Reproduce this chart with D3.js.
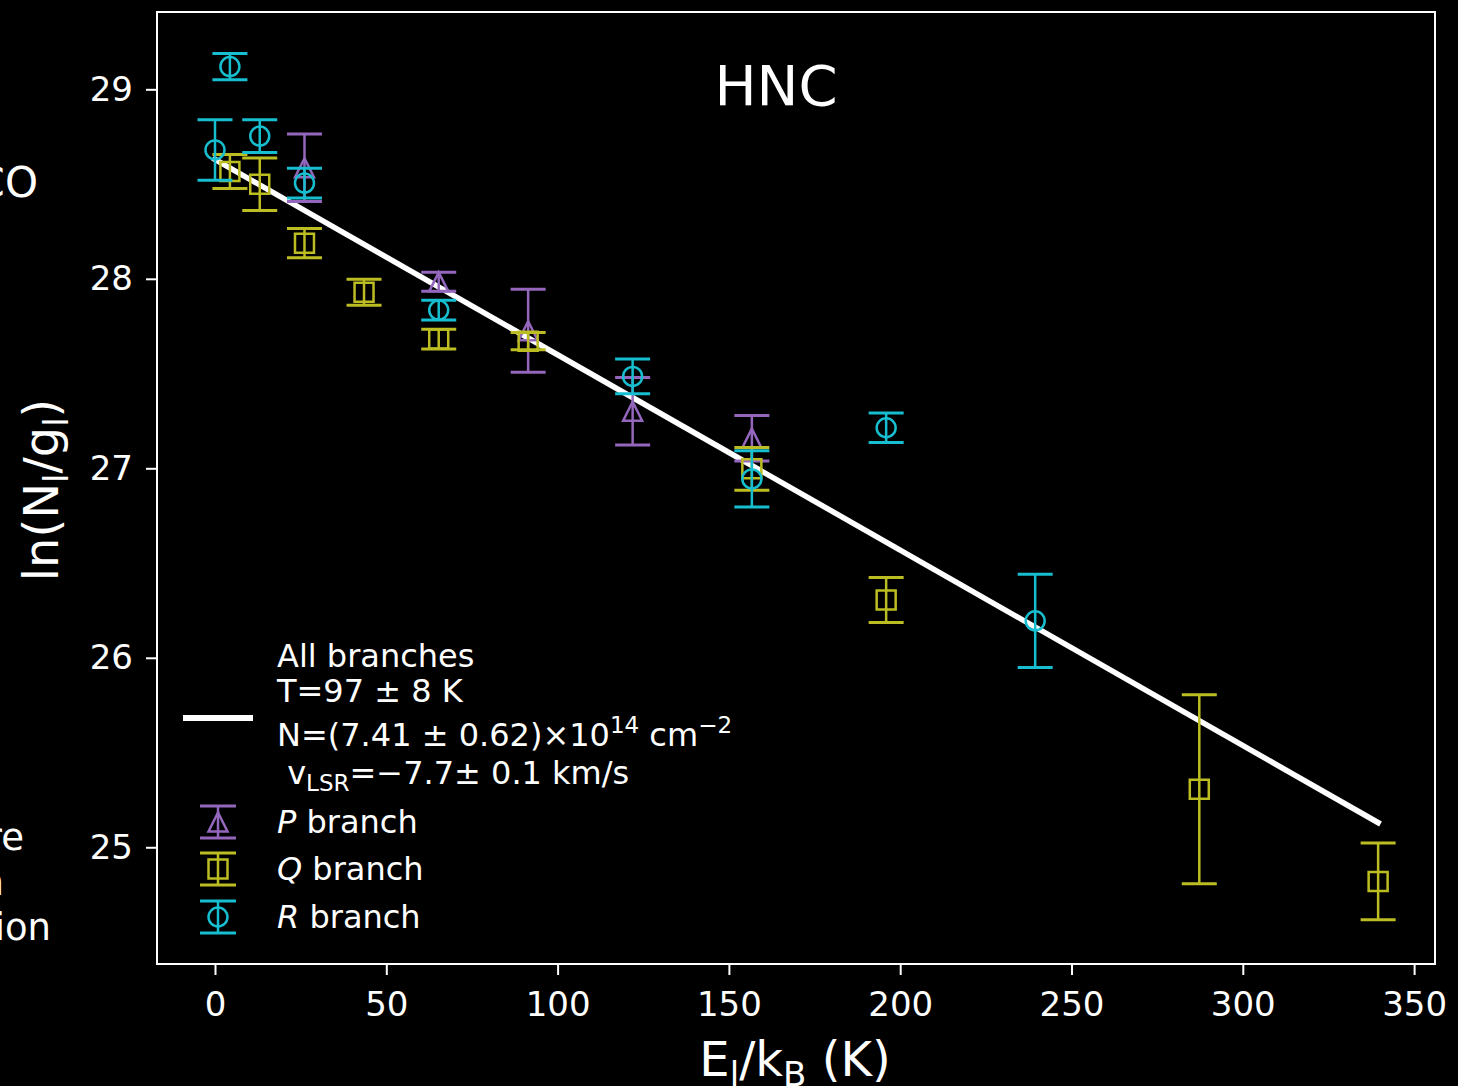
<!DOCTYPE html>
<html>
<head>
<meta charset="utf-8">
<script src="https://cdn.jsdelivr.net/npm/d3@7"></script>
<style>
  html, body { margin: 0; padding: 0; background: #000; }
  svg { display: block; }
  text { font-family: "DejaVu Sans", sans-serif; fill: #fff; }
</style>
</head>
<body>
<script>
// rotational diagram values
const pE = [26.12, 65.3, 91.4, 121.9, 156.7];
const pLn = [28.586, 27.984, 27.726, 27.301, 27.159];
const pErr = [0.178, 0.05, 0.219, 0.178, 0.12];

const qE = [4.35, 13.06, 26.12, 43.5, 65.3, 91.4, 156.7, 195.9, 287.3, 339.5];
const qLn = [28.566, 28.499, 28.188, 27.929, 27.682, 27.671, 26.997, 26.305, 25.306, 24.82];
const qErr = [0.09, 0.139, 0.077, 0.069, 0.052, 0.045, 0.113, 0.119, 0.499, 0.203];

const rE = [0, 4.35, 13.06, 26.12, 65.3, 121.9, 156.7, 195.9, 239.4];
const rLn = [28.68, 29.12, 28.753, 28.505, 27.835, 27.485, 26.944, 27.214, 26.195];
const rErr = [0.16, 0.069, 0.087, 0.078, 0.052, 0.092, 0.148, 0.078, 0.246];

// fit over all branches (T = 97 K)
const fitE = [0, 339.5];
const fitLn = [28.63, 25.13];

const xTicks = [0, 50, 100, 150, 200, 250, 300, 350];
const yTicks = [25, 26, 27, 28, 29];

const W = 1458, H = 1086;
const axL = 157, axR = 1435, axT = 12, axB = 964;

var svg = d3.select("body").append("svg")
	.attr("width", W)
	.attr("height", H)
	.style("background", "#000");

svg.append("rect").attr("width", W).attr("height", H).attr("fill", "#000");

var x = d3.scaleLinear().domain([-16.93, 356.1]).range([axL, axR]);
var y = d3.scaleLinear().domain([24.384, 29.408]).range([axB, axT]);

// clipped text from the neighbouring panel
svg.append("text").attr("x", 38).attr("y", 197).attr("text-anchor", "end").style("font-size", "42px").text("CO");
svg.append("text").attr("x", 24).attr("y", 850).attr("text-anchor", "end").style("font-size", "37px").text("re");
svg.append("text").attr("x", 4).attr("y", 895).attr("text-anchor", "end").style("font-size", "37px").text("n");
svg.append("text").attr("x", 51).attr("y", 940).attr("text-anchor", "end").style("font-size", "37px").text("ion");

// axes
var xAxis = svg.append("g")
	.attr("transform", "translate(0," + axB + ")")
	.call(d3.axisBottom(x).tickValues(xTicks).tickSize(11).tickPadding(17).tickFormat(d3.format("d")));
var yAxis = svg.append("g")
	.attr("transform", "translate(" + axL + ",0)")
	.call(d3.axisLeft(y).tickValues(yTicks).tickSize(11).tickPadding(13).tickFormat(d3.format("d")));

[xAxis, yAxis].forEach((g) => {
	g.select(".domain").remove();
	g.selectAll(".tick line").attr("stroke", "#fff").attr("stroke-width", 2);
	g.selectAll(".tick text")
		.attr("fill", "#fff")
		.style("font-family", "DejaVu Sans, sans-serif")
		.style("font-size", "34px");
});

svg.append("rect")
	.attr("x", axL).attr("y", axT)
	.attr("width", axR - axL).attr("height", axB - axT)
	.attr("fill", "none").attr("stroke", "#fff").attr("stroke-width", 2);

// fit line
var line = d3.line().x((d) => x(d[0])).y((d) => y(d[1]));
svg.append("path")
	.datum(fitE.map((e, i) => [e, fitLn[i]]))
	.attr("d", line)
	.attr("fill", "none")
	.attr("stroke", "#fff")
	.attr("stroke-width", 5.5)
	.attr("stroke-linecap", "square");

const capHalf = 17.5;

function markerPath(kind) {
	if (kind === "tri") return "M0,-9.5L-9.5,9.5L9.5,9.5Z";
	if (kind === "sq") return "M-9.5,-9.5H9.5V9.5H-9.5Z";
	return "M-9.5,0A9.5,9.5 0 1,0 9.5,0A9.5,9.5 0 1,0 -9.5,0Z";
}

function drawSeries(es, lns, errs, color, kind) {
	var g = svg.append("g");
	var pts = es.map((e, i) => ({ e: e, v: lns[i], err: errs[i] }));
	g.selectAll("line.bar").data(pts).enter().append("line")
		.attr("x1", (d) => x(d.e)).attr("x2", (d) => x(d.e))
		.attr("y1", (d) => y(d.v + d.err)).attr("y2", (d) => y(d.v - d.err))
		.attr("stroke", color).attr("stroke-width", 2.5);
	pts.forEach((d) => {
		[d.v + d.err, d.v - d.err].forEach((v) => {
			g.append("line")
				.attr("x1", x(d.e) - capHalf).attr("x2", x(d.e) + capHalf)
				.attr("y1", y(v)).attr("y2", y(v))
				.attr("stroke", color).attr("stroke-width", 3);
		});
	});
	g.selectAll("path.mk").data(pts).enter().append("path")
		.attr("d", markerPath(kind))
		.attr("transform", (d) => "translate(" + x(d.e) + "," + y(d.v) + ")")
		.attr("fill", "none").attr("stroke", color).attr("stroke-width", 2.5);
}

const colP = "#9467bd", colQ = "#bcbd22", colR = "#17becf";
drawSeries(pE, pLn, pErr, colP, "tri");
drawSeries(qE, qLn, qErr, colQ, "sq");
drawSeries(rE, rLn, rErr, colR, "circ");

// title
svg.append("text").attr("x", 776).attr("y", 105).attr("text-anchor", "middle").style("font-size", "56px").text("HNC");

// axis labels
var xl = svg.append("text").attr("x", 795).attr("y", 1076).attr("text-anchor", "middle").style("font-size", "48px");
xl.append("tspan").text("E");
xl.append("tspan").attr("dy", 10).style("font-size", "34px").text("l");
xl.append("tspan").attr("dy", -10).text("/k");
xl.append("tspan").attr("dy", 10).style("font-size", "34px").text("B");
xl.append("tspan").attr("dy", -10).text(" (K)");

var yl = svg.append("text")
	.attr("transform", "translate(58,490) rotate(-90)")
	.attr("text-anchor", "middle")
	.style("font-size", "48px");
yl.append("tspan").text("ln(N");
yl.append("tspan").attr("dy", 10).style("font-size", "34px").text("l");
yl.append("tspan").attr("dy", -10).text("/g");
yl.append("tspan").attr("dy", 10).style("font-size", "34px").text("l");
yl.append("tspan").attr("dy", -10).text(")");

// legend
var leg = svg.append("g").style("font-size", "32px");
leg.append("line").attr("x1", 183).attr("x2", 253).attr("y1", 718).attr("y2", 718)
	.attr("stroke", "#fff").attr("stroke-width", 6);
leg.append("text").attr("x", 277).attr("y", 667).text("All branches");
leg.append("text").attr("x", 277).attr("y", 702).text("T=97 ± 8 K");
var nt = leg.append("text").attr("x", 277).attr("y", 746);
nt.append("tspan").text("N=(7.41 ± 0.62)×10");
nt.append("tspan").attr("dy", -13).style("font-size", "23px").text("14");
nt.append("tspan").attr("dy", 13).text(" cm");
nt.append("tspan").attr("dy", -13).style("font-size", "23px").text("−2");
var vt = leg.append("text").attr("x", 277).attr("y", 784);
vt.append("tspan").text("\u00a0v");
vt.append("tspan").attr("dy", 7).style("font-size", "23px").text("LSR");
vt.append("tspan").attr("dy", -7).text("=−7.7± 0.1 km/s");

const legItems = [
	{ letter: "P", color: colP, kind: "tri", cy: 822 },
	{ letter: "Q", color: colQ, kind: "sq", cy: 869 },
	{ letter: "R", color: colR, kind: "circ", cy: 917 }
];
legItems.forEach((it) => {
	var cx = 218;
	leg.append("line").attr("x1", cx).attr("x2", cx).attr("y1", it.cy - 16).attr("y2", it.cy + 16)
		.attr("stroke", it.color).attr("stroke-width", 2.5);
	[it.cy - 16, it.cy + 16].forEach((yy) => {
		leg.append("line").attr("x1", cx - 18).attr("x2", cx + 18).attr("y1", yy).attr("y2", yy)
			.attr("stroke", it.color).attr("stroke-width", 3);
	});
	leg.append("path").attr("d", markerPath(it.kind))
		.attr("transform", "translate(" + cx + "," + it.cy + ")")
		.attr("fill", "none").attr("stroke", it.color).attr("stroke-width", 2.5);
	var t = leg.append("text").attr("x", 277).attr("y", it.cy + 11);
	t.append("tspan").style("font-style", "italic").text(it.letter);
	t.append("tspan").text(" branch");
});
</script>
</body>
</html>
